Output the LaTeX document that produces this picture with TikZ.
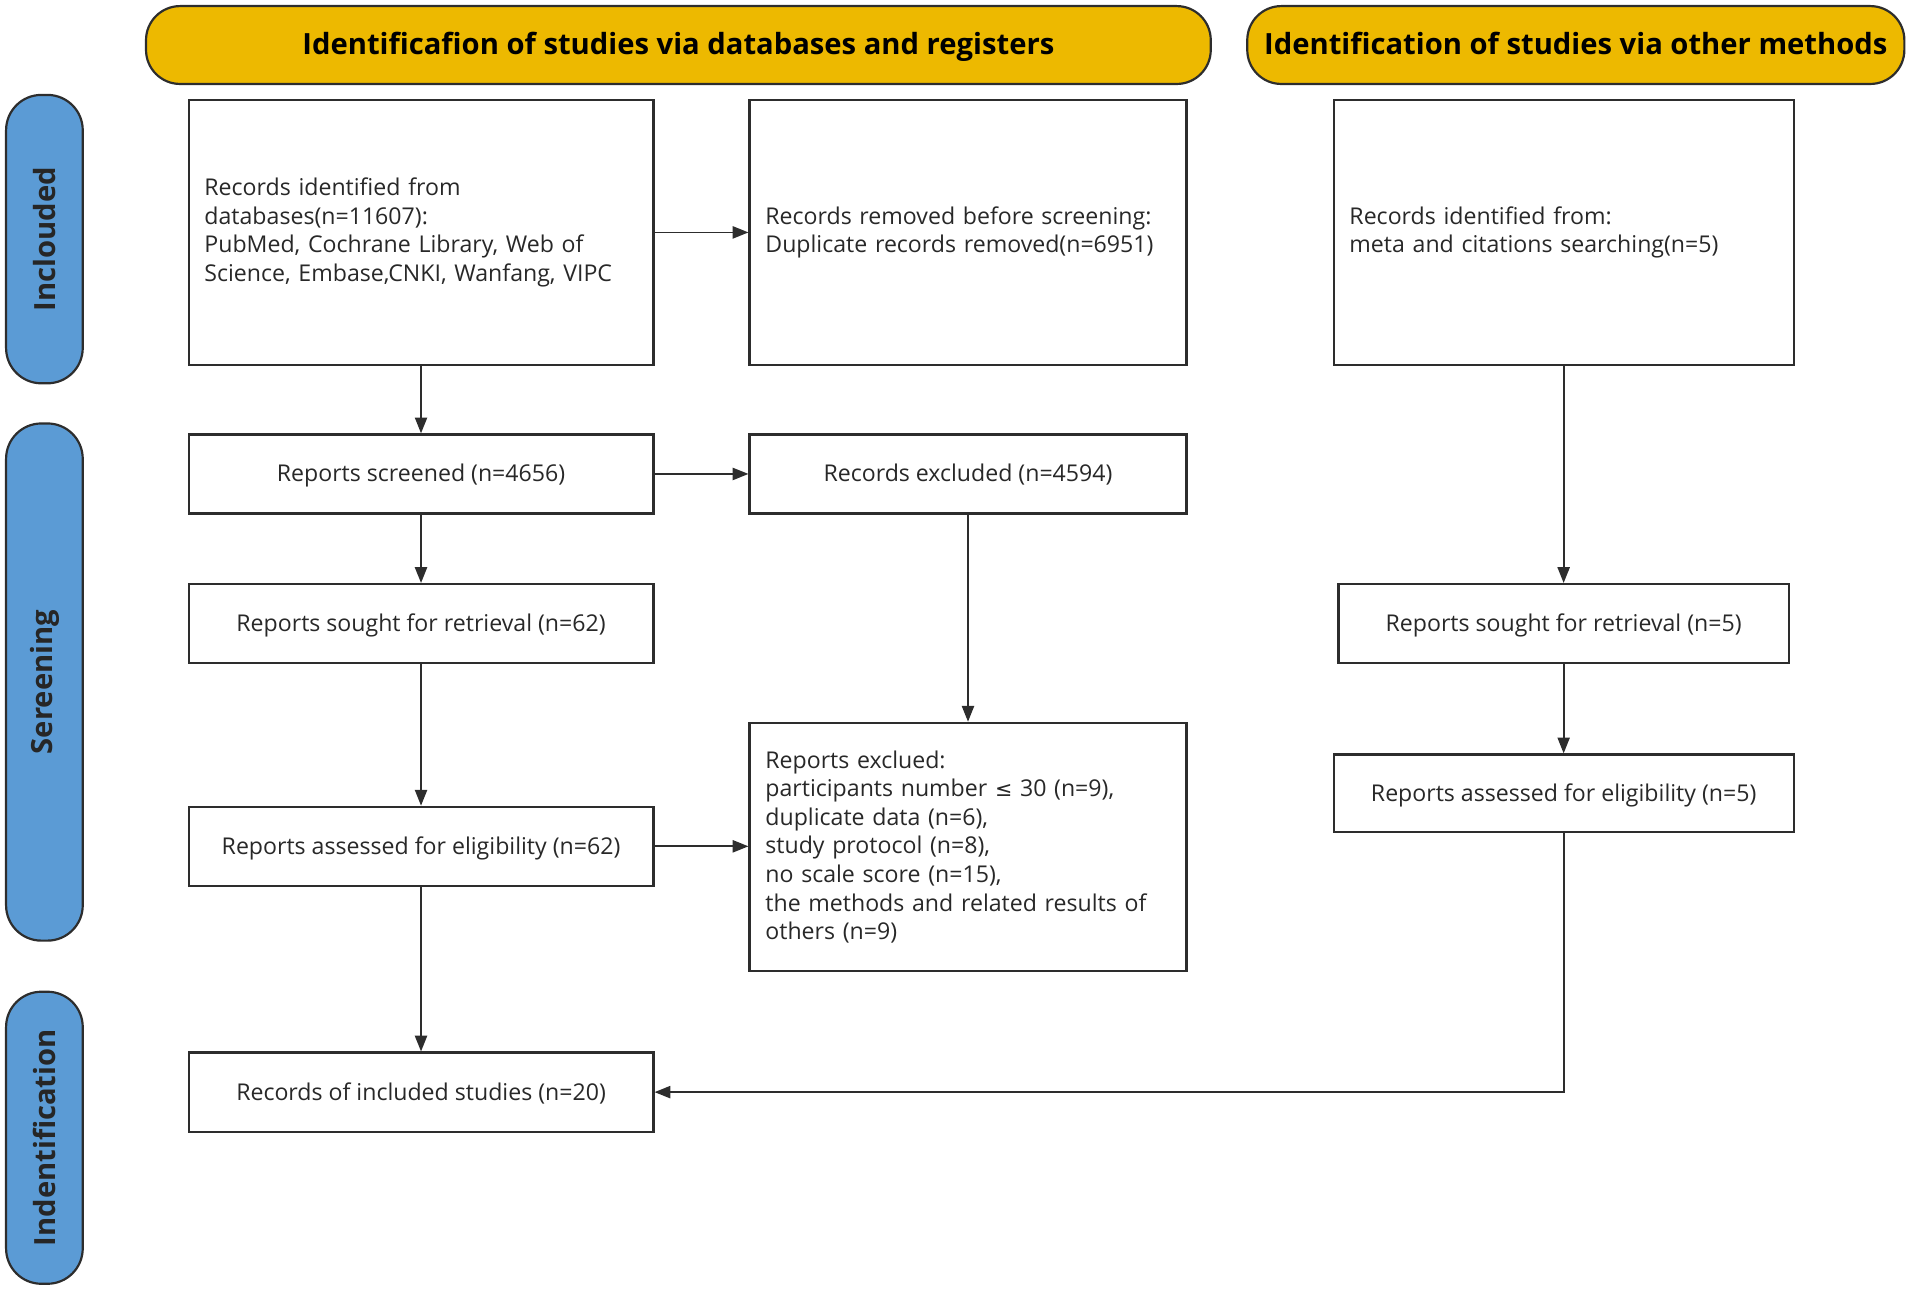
\documentclass[tikz,border=0pt]{standalone}
\usepackage{fontspec}
\setmainfont{Open Sans}
\usetikzlibrary{arrows.meta}
\definecolor{gold}{RGB}{237,185,0}
\definecolor{sideblue}{RGB}{91,155,213}
\definecolor{edge}{RGB}{45,45,45}
\definecolor{txt}{RGB}{40,40,40}
\begin{document}
\begin{tikzpicture}[x=1pt,y=-1pt,
  box/.style={draw=edge,line width=1.8pt,fill=white,inner xsep=13pt,inner ysep=4pt,
    font=\fontsize{19}{23.5}\selectfont,text=txt},
  lbox/.style={box,align=left},
  cbox/.style={box,align=center,text height=14pt,text depth=1pt},
  head/.style={draw=edge,line width=1.8pt,fill=gold,rounded corners=28pt,
    text height=17pt,text depth=1pt,
    font=\bfseries\fontsize{24}{28}\selectfont,text=black},
  side/.style={draw=edge,line width=1.8pt,fill=sideblue,rounded corners=29pt,rotate=90,
    minimum height=63pt,font=\bfseries\fontsize{24}{28}\selectfont,text=black!85},
  arr/.style={draw=edge,line width=1.5pt,-{Triangle[length=13pt,width=10pt]}}
]
\useasboundingbox (0,0) rectangle (1568,1060);
% headers
\node[head,minimum width=875pt,minimum height=64pt] (h1) at (557.5,37) {Identificafion of studies via databases and registers};
\node[head,minimum width=540pt,minimum height=64pt] (h2) at (1295,37) {Identification of studies via other methods};
% side bars
\node[side,minimum width=237pt] (s1) at (36.5,196.5) {Inclouded};
\node[side,minimum width=425pt] (s2) at (36.5,560.5) {Sereening};
\node[side,minimum width=240pt] (s3) at (36.5,935) {Indentification};
% boxes
\node[lbox,minimum width=382pt,minimum height=218pt,text width=356pt] (A) at (346,191)
  {Records identified from\\databases(n=11607):\\PubMed, Cochrane Library, Web of\\Science, Embase,CNKI, Wanfang, VIPC};
\node[lbox,minimum width=359pt,minimum height=218pt,text width=333pt] (B) at (795.5,191)
  {Records removed before screening:\\Duplicate records removed(n=6951)};
\node[lbox,minimum width=378pt,minimum height=218pt,text width=352pt] (C) at (1285,191)
  {Records identified from:\\meta and citations searching(n=5)};
\node[cbox,minimum width=382pt,minimum height=65pt] (D) at (346,389.5) {Reports screened (n=4656)};
\node[cbox,minimum width=359pt,minimum height=65pt] (E) at (795.5,389.5) {Records excluded (n=4594)};
\node[cbox,minimum width=382pt,minimum height=65pt] (F) at (346,512.5) {Reports sought for retrieval (n=62)};
\node[cbox,minimum width=370pt,minimum height=65pt] (G) at (1285,512.5) {Reports sought for retrieval (n=5)};
\node[cbox,minimum width=382pt,minimum height=65pt] (H) at (346,695.5) {Reports assessed for eligibility (n=62)};
\node[lbox,minimum width=359pt,minimum height=204pt,text width=333pt] (I) at (795.5,696)
  {Reports exclued:\\participants number {\fontspec{DejaVu Sans}\fontsize{17}{23.5}\selectfont ≤} 30 (n=9),\\duplicate data (n=6),\\study protocol (n=8),\\no scale score (n=15),\\the methods and related results of\\others (n=9)};
\node[cbox,minimum width=378pt,minimum height=64pt] (J) at (1285,652) {Reports assessed for eligibility (n=5)};
\node[cbox,minimum width=382pt,minimum height=65pt] (K) at (346,897.5) {Records of included studies (n=20)};
% connectors
\draw[arr] (A.east) -- (B.west);
\draw[arr] (A.south) -- (D.north);
\draw[arr] (D.east) -- (E.west);
\draw[arr] (D.south) -- (F.north);
\draw[arr] (E.south) -- (I.north);
\draw[arr] (F.south) -- (H.north);
\draw[arr] (H.east) -- (H.east -| I.west);
\draw[arr] (H.south) -- (K.north);
\draw[arr] (C.south) -- (G.north);
\draw[arr] (G.south) -- (J.north);
\draw[arr] (J.south) |- (K.east);
\end{tikzpicture}
\end{document}
